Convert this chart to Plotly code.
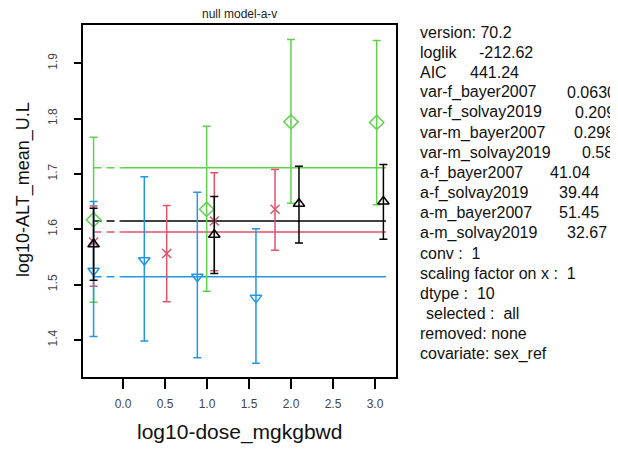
import plotly.graph_objects as go

green_x = [-0.35, 0.996, 2.0, 3.02]
green_y = [1.617, 1.636, 1.794, 1.793]
green_lo = [1.468, 1.488, 1.647, 1.644]
green_hi = [1.766, 1.786, 1.943, 1.941]

red_x = [-0.35, 0.52, 1.087, 1.81]
red_y = [1.577, 1.556, 1.615, 1.636]
red_lo = [1.497, 1.469, 1.525, 1.562]
red_hi = [1.642, 1.643, 1.702, 1.708]

blue_x = [-0.35, 0.254, 0.885, 1.583]
blue_y = [1.525, 1.544, 1.514, 1.476]
blue_lo = [1.406, 1.398, 1.368, 1.358]
blue_hi = [1.650, 1.695, 1.667, 1.601]

black_x = [-0.35, 1.087, 2.095, 3.1]
black_y = [1.573, 1.590, 1.646, 1.650]
black_lo = [1.508, 1.520, 1.575, 1.582]
black_hi = [1.638, 1.659, 1.714, 1.717]

# null model fitted levels
fit_green = 1.711
fit_black = 1.615
fit_red = 1.595
fit_blue = 1.514
x_ctrl = -0.35
x_break = -0.02
x_end = 3.13

x_ticks = [0.0, 0.5, 1.0, 1.5, 2.0, 2.5, 3.0]
y_ticks = [1.4, 1.5, 1.6, 1.7, 1.8, 1.9]

info_lines = [
    ("version: 70.2", None, None),
    ("loglik", "-212.62", 477),
    ("AIC", "441.24", 468),
    ("var-f_bayer2007", "0.0630", 565),
    ("var-f_solvay2019", "0.209", 573),
    ("var-m_bayer2007", "0.298", 572),
    ("var-m_solvay2019", "0.58", 580),
    ("a-f_bayer2007", "41.04", 548),
    ("a-f_solvay2019", "39.44", 557),
    ("a-m_bayer2007", "51.45", 557),
    ("a-m_solvay2019", "32.67", 565),
    ("conv :  1", None, None),
    ("scaling factor on x :  1", None, None),
    ("dtype :  10", None, None),
    (" selected :  all", None, None),
    ("removed: none", None, None),
    ("covariate: sex_ref", None, None),
]

GREEN = "#61D04F"
RED = "#DF536B"
BLUE = "#2297E6"
BLACK = "#000000"

fig = go.Figure()

# fitted lines: dashed from control to first dose, solid afterwards
for level, col in [(fit_green, GREEN), (fit_black, BLACK), (fit_red, RED), (fit_blue, BLUE)]:
    fig.add_trace(go.Scatter(x=[x_ctrl, x_break], y=[level, level], mode="lines",
                             line=dict(color=col, width=1.5, dash="8px,5px"),
                             showlegend=False, hoverinfo="skip"))
    fig.add_trace(go.Scatter(x=[x_break, x_end], y=[level, level], mode="lines",
                             line=dict(color=col, width=1.5),
                             showlegend=False, hoverinfo="skip"))

series = [
    (green_x, green_y, green_lo, green_hi, GREEN, "diamond-open", 11),
    (red_x, red_y, red_lo, red_hi, RED, "x-thin-open", 9),
    (blue_x, blue_y, blue_lo, blue_hi, BLUE, "triangle-down-open", 10),
    (black_x, black_y, black_lo, black_hi, BLACK, "triangle-up-open", 10),
]
for xs, ys, lo, hi, col, sym, sz in series:
    fig.add_trace(go.Scatter(
        x=xs, y=ys, mode="markers",
        marker=dict(symbol=sym, size=sz, color=col, line=dict(color=col, width=1.5)),
        error_y=dict(type="data", symmetric=False,
                     array=[h - y for h, y in zip(hi, ys)],
                     arrayminus=[y - l for l, y in zip(lo, ys)],
                     color=col, thickness=1.5, width=4),
        showlegend=False))

# page body adds an 8px offset, so the figure is drawn 8px smaller
OFF = 8
W = 618 - OFF
H = 452 - OFF
left = 83 - OFF
top = 25 - OFF
width = 313
height = 352


def px_x(px):
    return (px - OFF - left) / width


def px_y(py):
    return (top + height - (py - OFF)) / height


annotations = [
    dict(text="null model-a-v", x=0.5, y=1.0, xref="paper", yref="paper",
         xanchor="center", yanchor="bottom", yshift=2, showarrow=False,
         font=dict(size=12, color="#222222")),
    dict(text="log10-dose_mgkgbwd", x=0.5, y=px_y(432), xref="paper", yref="paper",
         xanchor="center", yanchor="middle", showarrow=False,
         font=dict(size=21, color="#111111")),
    dict(text="log10-ALT_mean_U.L", x=px_x(23), y=px_y(190), xref="paper", yref="paper",
         xanchor="center", yanchor="middle", textangle=-90, showarrow=False,
         font=dict(size=18, color="#111111")),
]

# side panel text, one row every 20 px
for i, (label, value, vx) in enumerate(info_lines):
    yp = px_y(32 + i * 20.1)
    lx = 424 if label.startswith(" ") else 418
    annotations.append(dict(text=label.strip(), x=px_x(lx), y=yp,
                            xref="paper", yref="paper", xanchor="left", yanchor="middle",
                            showarrow=False, font=dict(size=16, color="#111111")))
    if value is not None:
        annotations.append(dict(text=value, x=px_x(vx), y=yp,
                                xref="paper", yref="paper", xanchor="left", yanchor="middle",
                                showarrow=False, font=dict(size=16, color="#111111")))

fig.update_layout(
    width=W, height=H,
    margin=dict(l=left, r=W - left - width, t=top, b=H - top - height),
    paper_bgcolor="white", plot_bgcolor="white",
    font=dict(family="Liberation Sans, Arial, sans-serif", color="#111111"),
    annotations=annotations,
    xaxis=dict(range=[-0.476, 3.25], tickvals=x_ticks, ticktext=[f"{v:.1f}" for v in x_ticks],
               ticks="outside", ticklen=10, tickwidth=1.5, tickcolor="black",
               ticklabelstandoff=5, automargin=False,
               showgrid=False, zeroline=False, showline=True, linecolor="black",
               linewidth=1.5, mirror=True, tickfont=dict(size=12, color="#444444")),
    yaxis=dict(range=[1.333, 1.969], tickvals=y_ticks, ticktext=[f"{v:.1f}" for v in y_ticks],
               ticks="outside", ticklen=7, tickwidth=1.5, tickcolor="black", tickangle=-90,
               ticklabelstandoff=12, automargin=False,
               showgrid=False, zeroline=False, showline=True, linecolor="black",
               linewidth=1.5, mirror=True, tickfont=dict(size=12, color="#444444")),
)

fig.write_html("out.html")
